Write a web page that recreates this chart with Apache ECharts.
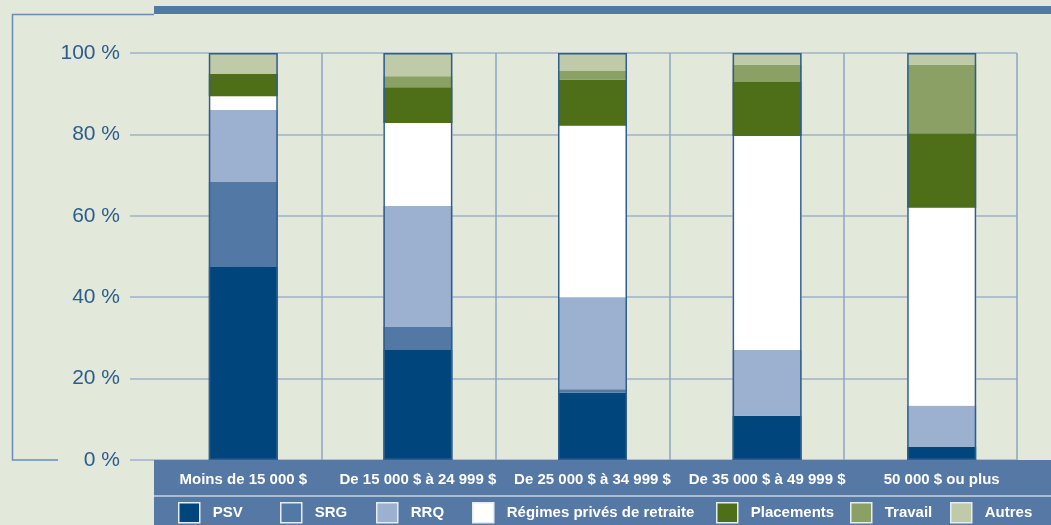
<!DOCTYPE html>
<html>
<head>
<meta charset="utf-8">
<script src="https://cdn.jsdelivr.net/npm/echarts@6/dist/echarts.min.js"></script>
<style>
html,body{margin:0;padding:0;background:#e2e8da;}
#c{width:1051px;height:525px;}
</style>
</head>
<body>
<div id="c"></div>
<script>
const categories = ['Moins de 15 000 $', 'De 15 000 $ à 24 999 $', 'De 25 000 $ à 34 999 $', 'De 35 000 $ à 49 999 $', '50 000 $ ou plus'];
const seriesNames = ['PSV', 'SRG', 'RRQ', 'Régimes privés de retraite', 'Placements', 'Travail', 'Autres'];
const psv        = [47.4, 27.0, 16.5, 10.9, 3.2];
const srg        = [20.9, 5.7, 0.9, 0, 0];
const rrq        = [17.7, 29.7, 22.6, 16.1, 10.1];
const regimes    = [3.4, 20.4, 42.1, 52.6, 48.7];
const placements = [5.5, 8.8, 11.3, 13.3, 18.3];
const travail    = [0, 2.7, 2.2, 4.2, 16.8];
const autres     = [5.1, 5.7, 4.4, 2.9, 2.9];
const totals     = [100, 100, 100, 100, 100];
const yTicks     = [0, 20, 40, 60, 80, 100];

const colors = ['#00457c', '#5279a6', '#9cb0cf', '#ffffff', '#4e6e18', '#8aa064', '#bfcaa8'];
const values = [psv, srg, rrq, regimes, placements, travail, autres];
const legendLeft = [178, 280, 376, 472, 716, 850, 950];

const font = 'Liberation Sans, Arial, sans-serif';

const series = values.map((d, i) => ({
  name: seriesNames[i],
  type: 'bar',
  stack: 'total',
  xAxisIndex: 0,
  yAxisIndex: 0,
  barWidth: 69,
  barGap: '-100%',
  data: d,
  itemStyle: { color: colors[i] },
  emphasis: { disabled: true },
  z: 2
}));
series.push({
  name: 'contour',
  type: 'bar',
  xAxisIndex: 0,
  yAxisIndex: 0,
  barWidth: 69,
  barGap: '-100%',
  data: totals,
  silent: true,
  itemStyle: { color: 'rgba(0,0,0,0)', borderColor: '#2f5e8e', borderWidth: 1.5 },
  z: 3
});

const legends = seriesNames.map((n, i) => ({
  data: [n],
  left: legendLeft[i],
  top: 502,
  padding: 0,
  itemWidth: 21,
  itemHeight: 20,
  icon: 'rect',
  selectedMode: false,
  itemStyle: { borderColor: '#e6ecf3', borderWidth: 1.5 },
  textStyle: { color: '#ffffff', fontSize: 15, fontWeight: 'bold', fontFamily: font, padding: [0, 0, 0, 8] }
}));

const option = {
  backgroundColor: '#e2e8da',
  animation: false,
  legend: legends,
  grid: [
    { left: 156, right: 22, top: 53, bottom: 65 },
    { left: 130, right: 34, top: 53, bottom: 65 },
    { left: 322, right: 34, top: 53, bottom: 65 }
  ],
  xAxis: [
    {
      gridIndex: 0, type: 'category', data: categories, z: 5,
      axisLine: { show: false }, axisTick: { show: false },
      axisLabel: { color: '#ffffff', fontSize: 15, fontWeight: 'bold', fontFamily: font, margin: 12, lineHeight: 15, interval: 0 }
    },
    { gridIndex: 1, type: 'value', min: 0, max: 1, show: false },
    {
      gridIndex: 2, type: 'value', min: 0, max: 4, interval: 1,
      axisLine: { show: false }, axisTick: { show: false }, axisLabel: { show: false },
      splitLine: { show: true, lineStyle: { color: '#8ea6c2', width: 1.5 } }
    }
  ],
  yAxis: [
    { gridIndex: 0, type: 'value', min: 0, max: 100, show: false },
    {
      gridIndex: 1, type: 'value', min: 0, max: 100, interval: 20,
      axisLine: { show: false }, axisTick: { show: false },
      axisLabel: { color: '#2c5d8c', fontSize: 21, fontFamily: font, margin: 10, padding: [5, 0, 0, 0],
        formatter: v => yTicks.includes(v) ? v + ' %' : '' },
      splitLine: { show: true, lineStyle: { color: '#a0b2c8', width: 1.5 } }
    },
    { gridIndex: 2, type: 'value', min: 0, max: 100, show: false }
  ],
  graphic: [
    { type: 'rect', z: 1, shape: { x: 154, y: 460, width: 897, height: 65 }, style: { fill: '#5578a5' }, silent: true },
    { type: 'line', z: 1, shape: { x1: 154, y1: 496, x2: 1051, y2: 496 }, style: { stroke: '#c8d4e4', lineWidth: 1.5 }, silent: true },
    { type: 'rect', z: 1, shape: { x: 154, y: 6, width: 897, height: 8 }, style: { fill: '#5278a5' }, silent: true },
    { type: 'polyline', z: 1, shape: { points: [[154, 14.5], [12.5, 14.5], [12.5, 460], [58, 460]] }, style: { stroke: '#6b8cb6', lineWidth: 1.5, fill: null }, silent: true }
  ],
  series: series
};

const chart = echarts.init(document.getElementById('c'), null, { renderer: 'canvas' });
chart.setOption(option);
</script>
</body>
</html>
